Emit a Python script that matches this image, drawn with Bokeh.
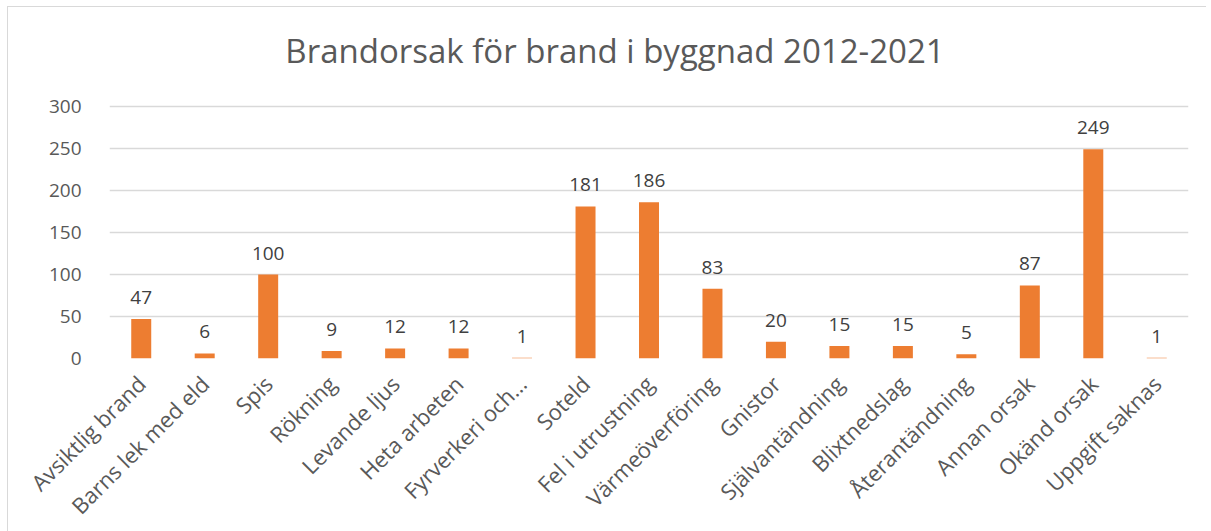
from bokeh.plotting import figure
from bokeh.models import ColumnDataSource, Range1d, FixedTicker, Label
from bokeh.embed import file_html
from bokeh.resources import INLINE
from bokeh.core.properties import value
import math

title_text = "Brandorsak för brand i byggnad 2012-2021"
categories = ["Avsiktlig brand", "Barns lek med eld", "Spis", "Rökning", "Levande ljus",
              "Heta arbeten", "Fyrverkeri och…", "Soteld", "Fel i utrustning",
              "Värmeöverföring", "Gnistor", "Självantändning", "Blixtnedslag",
              "Återantändning", "Annan orsak", "Okänd orsak", "Uppgift saknas"]
counts = [47, 6, 100, 9, 12, 12, 1, 181, 186, 83, 20, 15, 15, 5, 87, 249, 1]
y_ticks = [0, 50, 100, 150, 200, 250, 300]

FONT = "Open Sans"
src = ColumnDataSource(dict(cat=categories, val=counts, lbl=[str(v) for v in counts]))

# plot area 252 px high for 0..300, plus 99 px headroom for the title
FW, FH_AXIS, HEAD = 1079, 252, 99
FH = FH_AXIS + HEAD
y_max = max(y_ticks) * FH / FH_AXIS

p = figure(x_range=categories, y_range=Range1d(0, y_max),
           frame_width=FW, frame_height=FH,
           min_border_left=101, min_border_right=18, min_border_top=0, min_border_bottom=165,
           output_backend="svg", toolbar_location=None)
p.styles = {"margin-left": "7px", "margin-top": "6px",
            "border-top": "1px solid #d9d9d9", "border-left": "1px solid #d9d9d9"}

title = Label(x=FW / 2 - 34, y=FH - 43, x_units="screen", y_units="screen",
              text=title_text, text_align="center", text_baseline="middle",
              text_font=FONT, text_font_size="33px", text_color="#595959")
p.add_layout(title)

p.vbar(x="cat", top="val", width=0.315, source=src, color="#ED7D31", line_color=None)
p.text(x="cat", y="val", text="lbl", source=src, text_align="center", text_baseline="bottom",
       y_offset=-15, text_font=value(FONT), text_font_size="19px", text_color="#404040")

p.outline_line_color = None
p.xgrid.grid_line_color = None
p.ygrid.grid_line_color = "#d9d9d9"
p.ygrid.grid_line_width = 1.3
p.yaxis.ticker = FixedTicker(ticks=y_ticks)

for ax in (p.xaxis[0], p.yaxis[0]):
    ax.axis_line_color = None
    ax.major_tick_line_color = None
    ax.minor_tick_line_color = None
    ax.major_label_text_font = FONT
    ax.major_label_text_color = "#595959"

p.xaxis.major_label_text_font_size = "22px"
p.yaxis.major_label_text_font_size = "19px"
p.xaxis.major_label_orientation = math.pi / 4
p.xaxis.major_label_standoff = 15
p.yaxis.major_label_standoff = 22

open("out.html", "w").write(file_html(p, INLINE))
